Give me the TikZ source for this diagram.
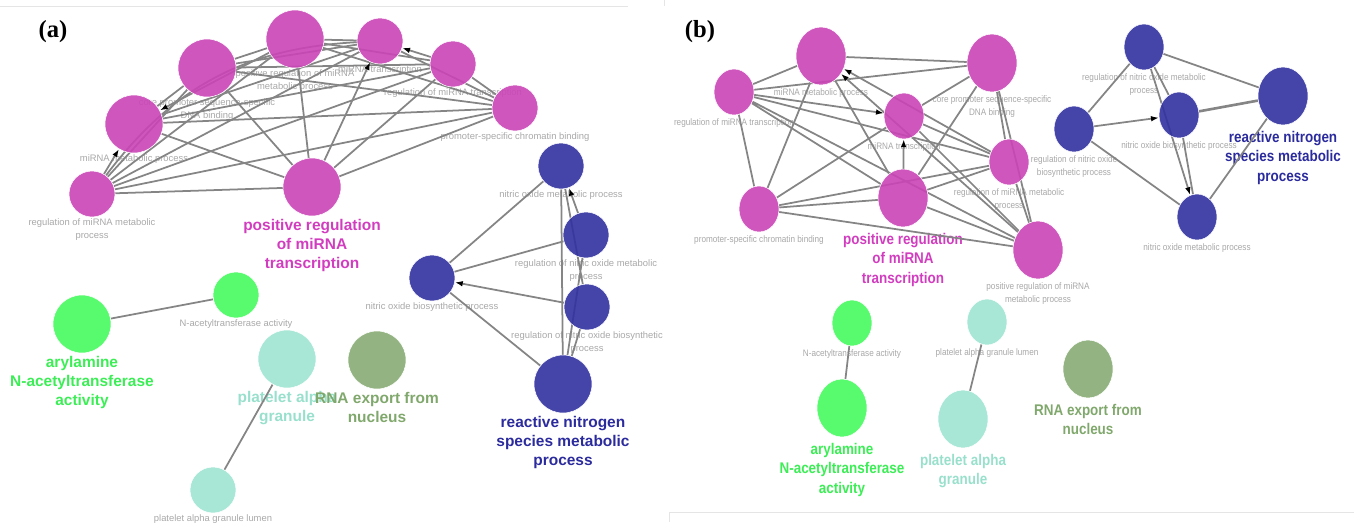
\documentclass[tikz,border=0pt]{standalone}
\usepackage{fontspec}
\setmainfont{Liberation Serif}
\setsansfont{Liberation Sans}
\newfontfamily\narrowsans[FakeStretch=0.87]{Liberation Sans}
\usetikzlibrary{arrows.meta, positioning, shapes.geometric, backgrounds}
\definecolor{MirPink}{HTML}{CA44B6}
\definecolor{MirPinkText}{HTML}{D23DC0}
\definecolor{NoBlue}{HTML}{3030A0}
\definecolor{NoBlueText}{HTML}{2B2B9E}
\definecolor{AcGreen}{HTML}{46FA5E}
\definecolor{AcGreenText}{HTML}{3CEE55}
\definecolor{PlTeal}{HTML}{9EE4D2}
\definecolor{PlTealText}{HTML}{98E0CC}
\definecolor{RnaOlive}{HTML}{87AB74}
\definecolor{RnaOliveText}{HTML}{80A86C}
\definecolor{EdgeGray}{HTML}{858585}
\definecolor{LabelGray}{HTML}{A8A8A8}
\pgfdeclarelayer{edges}
\pgfsetlayers{background,edges,main}
\tikzset{
    % one line width for all connectors
    base_width/.style={line width=1pt},
    % terms of panel (a) are circles
    term_big/.style={
        circle,
        minimum size=1.16cm,
        inner sep=0pt,
        draw=white,
        line width=0.3pt,
        fill opacity=0.9
    },
    term_small/.style={
        term_big,
        minimum size=0.92cm
    },
    % terms of panel (b) are a bit taller than wide
    term_big_b/.style={
        ellipse,
        minimum width=1.0cm,
        minimum height=1.16cm,
        inner sep=0pt,
        draw=white,
        line width=0.3pt,
        fill opacity=0.9
    },
    term_small_b/.style={
        term_big_b,
        minimum width=0.8cm,
        minimum height=0.92cm
    },
    small_label/.style={
        font=\sffamily\fontsize{5.35}{7.4}\selectfont,
        text=LabelGray,
        align=center,
        inner sep=0pt
    },
    small_label_b/.style={
        small_label,
        font=\narrowsans\fontsize{5.35}{6.9}\selectfont
    },
    group_label/.style={
        font=\sffamily\bfseries\fontsize{8.8}{10.8}\selectfont,
        align=center,
        inner sep=0pt
    },
    group_label_b/.style={
        group_label,
        font=\narrowsans\bfseries\fontsize{8.8}{11.3}\selectfont
    },
    edge_line/.style={
        draw=EdgeGray,
        base_width
    },
    edge_arrow/.style={
        edge_line,
        -{Latex[color=black, length=4.5pt, width=3.2pt]}
    },
    panel_tag/.style={
        font=\rmfamily\bfseries\fontsize{14}{16}\selectfont,
        inner sep=0pt
    }
}

\begin{document}
\begin{tikzpicture}[x=0.02cm, y=0.02cm]

    \useasboundingbox (0,0) rectangle (1354,-522);

    % --- PANEL TAGS ---
    \node[panel_tag] (tag_a) at (53,-32) {(a)};
    \node[panel_tag] (tag_b) at (700,-32) {(b)};

    % --- PANEL (a): TERMS ---
    \node[term_small, fill=MirPink] (a_regmet) at (92,-194) {};
    \node[term_big, fill=MirPink] (a_mirmet) at (134,-124) {};
    \node[term_big, fill=MirPink] (a_core) at (207,-68) {};
    \node[term_big, fill=MirPink] (a_posmet) at (295,-39) {};
    \node[term_big, fill=MirPink] (a_postx) at (312,-187) {};
    \node[term_small, fill=MirPink] (a_mirtx) at (380,-41) {};
    \node[term_small, fill=MirPink] (a_regtx) at (453,-64) {};
    \node[term_small, fill=MirPink] (a_chrom) at (515,-108) {};

    \node[term_small, fill=NoBlue] (a_nomet) at (561,-166) {};
    \node[term_small, fill=NoBlue] (a_regnomet) at (586,-235) {};
    \node[term_small, fill=NoBlue] (a_regnobio) at (587,-307) {};
    \node[term_small, fill=NoBlue] (a_nobio) at (432,-278) {};
    \node[term_big, fill=NoBlue] (a_rns) at (563,-384) {};

    \node[term_big, fill=AcGreen] (a_aryl) at (82,-324) {};
    \node[term_small, fill=AcGreen] (a_nat) at (236,-295) {};
    \node[term_big, fill=PlTeal] (a_plt) at (287,-359) {};
    \node[term_small, fill=PlTeal] (a_pltlum) at (213,-490) {};
    \node[term_big, fill=RnaOlive] (a_rna) at (377,-360) {};

    % --- PANEL (b): TERMS ---
    \node[term_big_b, fill=MirPink] (b_mirmet) at (821,-56) {};
    \node[term_small_b, fill=MirPink] (b_regtx) at (734,-92) {};
    \node[term_small_b, fill=MirPink] (b_mirtx) at (904,-116) {};
    \node[term_small_b, fill=MirPink] (b_chrom) at (759,-209) {};
    \node[term_big_b, fill=MirPink] (b_postx) at (903,-198) {};
    \node[term_big_b, fill=MirPink] (b_core) at (992,-63) {};
    \node[term_small_b, fill=MirPink] (b_regmet) at (1009,-162) {};
    \node[term_big_b, fill=MirPink] (b_posmet) at (1038,-250) {};

    \node[term_small_b, fill=NoBlue] (b_regnomet) at (1144,-47) {};
    \node[term_small_b, fill=NoBlue] (b_regnobio) at (1074,-129) {};
    \node[term_small_b, fill=NoBlue] (b_nobio) at (1179,-115) {};
    \node[term_big_b, fill=NoBlue] (b_rns) at (1283,-96) {};
    \node[term_small_b, fill=NoBlue] (b_nomet) at (1197,-217) {};

    \node[term_small_b, fill=AcGreen] (b_nat) at (852,-323) {};
    \node[term_big_b, fill=AcGreen] (b_aryl) at (842,-408) {};
    \node[term_small_b, fill=PlTeal] (b_pltlum) at (987,-322) {};
    \node[term_big_b, fill=PlTeal] (b_plt) at (963,-419) {};
    \node[term_big_b, fill=RnaOlive] (b_rna) at (1088,-369) {};

    % --- LABELS (under the connectors) ---
    \begin{scope}[on background layer]
    \node[small_label, below=0.5pt of a_regmet] (a_regmet_txt) {regulation of miRNA metabolic\\process};
    \node[small_label, below=0.5pt of a_mirmet] (a_mirmet_txt) {miRNA metabolic process};
    \node[small_label, below=0.5pt of a_core] (a_core_txt) {core promoter sequence-specific\\DNA binding};
    \node[small_label, below=0.5pt of a_posmet] (a_posmet_txt) {positive regulation of miRNA\\metabolic process};
    \node[small_label, below=0.5pt of a_mirtx] (a_mirtx_txt) {miRNA transcription};
    \node[small_label, below=0.5pt of a_regtx] (a_regtx_txt) {regulation of miRNA transcription};
    \node[small_label, below=0.5pt of a_chrom] (a_chrom_txt) {promoter-specific chromatin binding};
    \node[small_label, below=0.5pt of a_nomet] (a_nomet_txt) {nitric oxide metabolic process};
    \node[small_label, below=0.5pt of a_regnomet] (a_regnomet_txt) {regulation of nitric oxide metabolic\\process};
    \node[small_label, below=0.5pt of a_regnobio] (a_regnobio_txt) {regulation of nitric oxide biosynthetic\\process};
    \node[small_label, below=0.5pt of a_nobio] (a_nobio_txt) {nitric oxide biosynthetic process};
    \node[small_label, below=0.5pt of a_nat] (a_nat_txt) {N-acetyltransferase activity};
    \node[small_label, below=0.5pt of a_pltlum] (a_pltlum_txt) {platelet alpha granule lumen};

    \node[group_label, text=MirPinkText, below=1.5pt of a_postx] (a_postx_txt) {positive regulation\\of miRNA\\transcription};
    \node[group_label, text=NoBlueText, below=1.5pt of a_rns] (a_rns_txt) {reactive nitrogen\\species metabolic\\process};
    \node[group_label, text=AcGreenText, below=1.5pt of a_aryl] (a_aryl_txt) {arylamine\\N-acetyltransferase\\activity};
    \node[group_label, text=PlTealText, below=1.5pt of a_plt] (a_plt_txt) {platelet alpha\\granule};
    \node[group_label, text=RnaOliveText, below=1.5pt of a_rna] (a_rna_txt) {RNA export from\\nucleus};

    \node[small_label_b, below=2pt of b_mirmet] (b_mirmet_txt) {miRNA metabolic process};
    \node[small_label_b, below=2pt of b_regtx] (b_regtx_txt) {regulation of miRNA transcription};
    \node[small_label_b, below=2pt of b_mirtx] (b_mirtx_txt) {miRNA transcription};
    \node[small_label_b, below=2pt of b_chrom] (b_chrom_txt) {promoter-specific chromatin binding};
    \node[small_label_b, below=2pt of b_core] (b_core_txt) {core promoter sequence-specific\\DNA binding};
    \node[small_label_b, below=2pt of b_regmet] (b_regmet_txt) {regulation of miRNA metabolic\\process};
    \node[small_label_b, below=2pt of b_posmet] (b_posmet_txt) {positive regulation of miRNA\\metabolic process};
    \node[small_label_b, below=2pt of b_regnomet] (b_regnomet_txt) {regulation of nitric oxide metabolic\\process};
    \node[small_label_b, below=2pt of b_regnobio] (b_regnobio_txt) {regulation of nitric oxide\\biosynthetic process};
    \node[small_label_b, below=2pt of b_nobio] (b_nobio_txt) {nitric oxide biosynthetic process};
    \node[small_label_b, below=2pt of b_nomet] (b_nomet_txt) {nitric oxide metabolic process};
    \node[small_label_b, below=2pt of b_nat] (b_nat_txt) {N-acetyltransferase activity};
    \node[small_label_b, below=2pt of b_pltlum] (b_pltlum_txt) {platelet alpha granule lumen};

    \node[group_label_b, text=MirPinkText, below=3pt of b_postx] (b_postx_txt) {positive regulation\\of miRNA\\transcription};
    \node[group_label_b, text=NoBlueText, below=3pt of b_rns] (b_rns_txt) {reactive nitrogen\\species metabolic\\process};
    \node[group_label_b, text=AcGreenText, below=3pt of b_aryl] (b_aryl_txt) {arylamine\\N-acetyltransferase\\activity};
    \node[group_label_b, text=PlTealText, below=3pt of b_plt] (b_plt_txt) {platelet alpha\\granule};
    \node[group_label_b, text=RnaOliveText, below=3pt of b_rna] (b_rna_txt) {RNA export from\\nucleus};

    % faint frame lines of the two screenshots
    \draw[gray!20, line width=0.4pt] (0,-6) -- (628,-6) (664,0) -- (664,-6)
        (669,-522) -- (669,-512) -- (1354,-512);
    \end{scope}

    % --- CONNECTIONS ---
    \begin{pgfonlayer}{edges}

    % miRNA cluster (a)
    \draw[edge_line] (a_regmet) -- (a_core) (a_regmet) -- (a_posmet) (a_regmet) -- (a_postx)
        (a_regmet) -- (a_mirtx) (a_regmet) -- (a_regtx) (a_regmet) -- (a_chrom);
    \draw[edge_line] (a_regmet) to[bend left=25] (a_mirtx);
    \draw[edge_arrow] (a_regmet) -- (a_mirmet);
    \draw[edge_arrow] (a_posmet) -- (a_mirmet);
    \draw[edge_line] (a_mirmet) -- (a_core) (a_mirmet) -- (a_postx) (a_mirmet) -- (a_mirtx)
        (a_mirmet) -- (a_regtx) (a_mirmet) -- (a_chrom);
    \draw[edge_line] (a_core) -- (a_posmet) (a_core) -- (a_postx) (a_core) -- (a_mirtx)
        (a_core) -- (a_regtx) (a_core) -- (a_chrom);
    \draw[edge_line] (a_posmet) -- (a_postx) (a_posmet) -- (a_mirtx) (a_posmet) -- (a_regtx)
        (a_posmet) -- (a_chrom);
    \draw[edge_arrow] (a_postx) -- (a_mirtx);
    \draw[edge_line] (a_postx) -- (a_regtx) (a_postx) -- (a_chrom);
    \draw[edge_arrow] (a_regtx) -- (a_mirtx);
    \draw[edge_line] (a_mirtx) -- (a_chrom) (a_regtx) -- (a_chrom);

    % nitric oxide cluster (a)
    \draw[edge_line] (a_nobio) -- (a_nomet) (a_nobio) -- (a_regnomet) (a_nobio) -- (a_rns)
        (a_rns) -- (a_nomet) (a_rns) -- (a_regnomet) (a_rns) -- (a_regnobio)
        (a_regnobio) -- (a_nomet);
    \draw[edge_arrow] (a_regnobio) -- (a_nobio);
    \draw[edge_arrow] (a_regnomet) -- (a_nomet);

    % small groups (a)
    \draw[edge_line] (a_aryl) -- (a_nat);
    \draw[edge_line] (a_plt) -- (a_pltlum);

    % miRNA cluster (b)
    \draw[edge_line] (b_regtx) -- (b_mirmet) (b_regtx) -- (b_chrom) (b_regtx) -- (b_postx)
        (b_regtx) -- (b_regmet) (b_regtx) -- (b_posmet) (b_regtx) -- (b_core);
    \draw[edge_arrow] (b_regtx) -- (b_mirtx);
    \draw[edge_line] (b_mirmet) -- (b_core) (b_mirmet) -- (b_chrom) (b_mirmet) -- (b_postx);
    \draw[edge_arrow] (b_regmet) -- (b_mirmet);
    \draw[edge_arrow] (b_posmet) -- (b_mirmet);
    \draw[edge_arrow] (b_postx) -- (b_mirtx);
    \draw[edge_line] (b_mirtx) -- (b_chrom) (b_mirtx) -- (b_core) (b_mirtx) -- (b_regmet)
        (b_mirtx) -- (b_posmet);
    \draw[edge_line] (b_chrom) -- (b_postx) (b_chrom) -- (b_regmet) (b_chrom) -- (b_posmet);
    \draw[edge_line] (b_postx) -- (b_regmet) (b_postx) -- (b_posmet) (b_postx) -- (b_core);
    \draw[edge_line] (b_core) -- (b_regmet) (b_core) -- (b_posmet) (b_regmet) -- (b_posmet);

    % nitric oxide cluster (b)
    \draw[edge_line] (b_regnomet) -- (b_regnobio) (b_regnomet) -- (b_rns) (b_regnomet) -- (b_nobio)
        (b_regnobio) -- (b_nomet) (b_rns) -- (b_nomet);
    \draw[edge_line, line width=1.5pt] (b_nobio) -- (b_rns);
    \draw[edge_arrow] (b_regnobio) -- (b_nobio);
    \draw[edge_arrow] (b_regnomet) -- (b_nomet);
    \draw[edge_line] (b_nobio) -- (b_nomet);

    % small groups (b)
    \draw[edge_line] (b_nat) -- (b_aryl);
    \draw[edge_line] (b_pltlum) -- (b_plt);

    \end{pgfonlayer}

\end{tikzpicture}
\end{document}
